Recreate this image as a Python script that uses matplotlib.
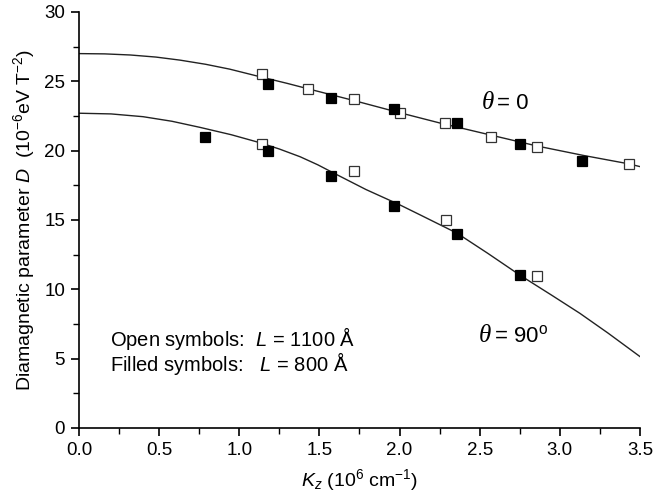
import matplotlib
matplotlib.use("Agg")
import matplotlib.pyplot as plt
from matplotlib.ticker import MultipleLocator, FormatStrFormatter

plt.rcParams['font.family'] = ['Liberation Sans', 'DejaVu Sans']
plt.rcParams['mathtext.fontset'] = 'custom'
plt.rcParams['mathtext.rm'] = 'Liberation Sans'
plt.rcParams['mathtext.it'] = 'Liberation Sans:italic'

# theta = 0 data
k0_open = [1.14, 1.43, 1.715, 2.0, 2.285, 2.57, 2.86, 3.43]
d0_open = [25.5, 24.47, 23.7, 22.69, 21.97, 20.96, 20.28, 19.01]
k0_fill = [1.18, 1.57, 1.965, 2.356, 2.75, 3.14]
d0_fill = [24.78, 23.77, 22.98, 21.97, 20.48, 19.27]

# theta = 90 data
k90_open = [1.14, 1.715, 2.287, 2.86]
d90_open = [20.48, 18.5, 15.0, 10.98]
k90_fill = [0.786, 1.18, 1.572, 1.967, 2.356, 2.75]
d90_fill = [21.0, 19.99, 18.2, 16.0, 13.99, 11.03]

# fit curves
k0_fit = [0.0, 0.16, 0.32, 0.48, 0.63, 0.79, 0.94, 1.13, 1.3, 1.46, 1.72, 1.98, 2.25, 2.56, 2.86, 3.15, 3.43, 3.5]
d0_fit = [27.0, 26.98, 26.9, 26.75, 26.53, 26.23, 25.88, 25.33, 24.85, 24.37, 23.6, 22.8, 22.0, 21.15, 20.33, 19.65, 19.05, 18.85]
k90_fit = [0.0, 0.2, 0.4, 0.58, 0.755, 0.95, 1.13, 1.25, 1.38, 1.49, 1.59, 1.79, 2.0, 2.13, 2.36, 2.55, 2.75, 2.95, 3.125, 3.3, 3.5]
d90_fit = [22.7, 22.65, 22.45, 22.12, 21.68, 21.15, 20.57, 20.12, 19.56, 18.98, 18.38, 17.2, 16.1, 15.36, 14.04, 12.6, 11.03, 9.57, 8.27, 6.85, 5.15]

fig = plt.figure(figsize=(6.67, 5.0), dpi=100)
ax = fig.add_axes([0.1184, 0.144, 0.8411, 0.832])

ax.plot(k0_fit, d0_fit, color='#222222', lw=1.0, zorder=2)
ax.plot(k90_fit, d90_fit, color='#222222', lw=1.0, zorder=2)

for k, d in [(k0_open, d0_open), (k90_open, d90_open)]:
    ax.plot(k, d, ls='none', marker='s', ms=7.5, mfc='white', mec='#333333', mew=0.9, zorder=3)
for k, d in [(k0_fill, d0_fill), (k90_fill, d90_fill)]:
    ax.plot(k, d, ls='none', marker='s', ms=7.5, mfc='black', mec='black', mew=0.9, zorder=3)

ax.set_xlim(0, 3.5)
ax.set_ylim(0, 30)
ax.spines['top'].set_visible(False)
ax.spines['right'].set_visible(False)
for s in ['left', 'bottom']:
    ax.spines[s].set_linewidth(1.2)
ax.xaxis.set_major_locator(MultipleLocator(0.5))
ax.xaxis.set_minor_locator(MultipleLocator(0.25))
ax.xaxis.set_major_formatter(FormatStrFormatter('%.1f'))
ax.yaxis.set_major_locator(MultipleLocator(5))
ax.yaxis.set_minor_locator(MultipleLocator(2.5))
ax.tick_params(which='major', direction='out', length=6, width=1.2, labelsize=13.5, pad=4)
ax.tick_params(which='minor', direction='out', length=4, width=1.0)

ax.set_xlabel(r'$K_z$ (10$^6$ cm$^{-1}$)', fontsize=14, labelpad=6)
ax.set_ylabel(r'Diamagnetic parameter $D$  (10$^{-6}$eV T$^{-2}$)', fontsize=14, labelpad=5)

ax.text(2.59, 23.0, u'\u03b8', family='Liberation Serif', style='italic', fontsize=18, ha='right', va='baseline')
ax.text(2.61, 23.0, '= 0', fontsize=16, ha='left', va='baseline')
ax.text(2.57, 6.2, u'\u03b8', family='Liberation Serif', style='italic', fontsize=18, ha='right', va='baseline')
ax.text(2.59, 6.2, r'= 90$^{\rm o}$', fontsize=16, ha='left', va='baseline')

ax.text(0.193, 5.9, u'Open symbols:  $L$ = 1100 \u00c5', fontsize=14.5, ha='left', va='baseline')
ax.text(0.193, 4.1, u'Filled symbols:   $L$ = 800 \u00c5', fontsize=14.5, ha='left', va='baseline')

fig.savefig('out.png', dpi=100)
